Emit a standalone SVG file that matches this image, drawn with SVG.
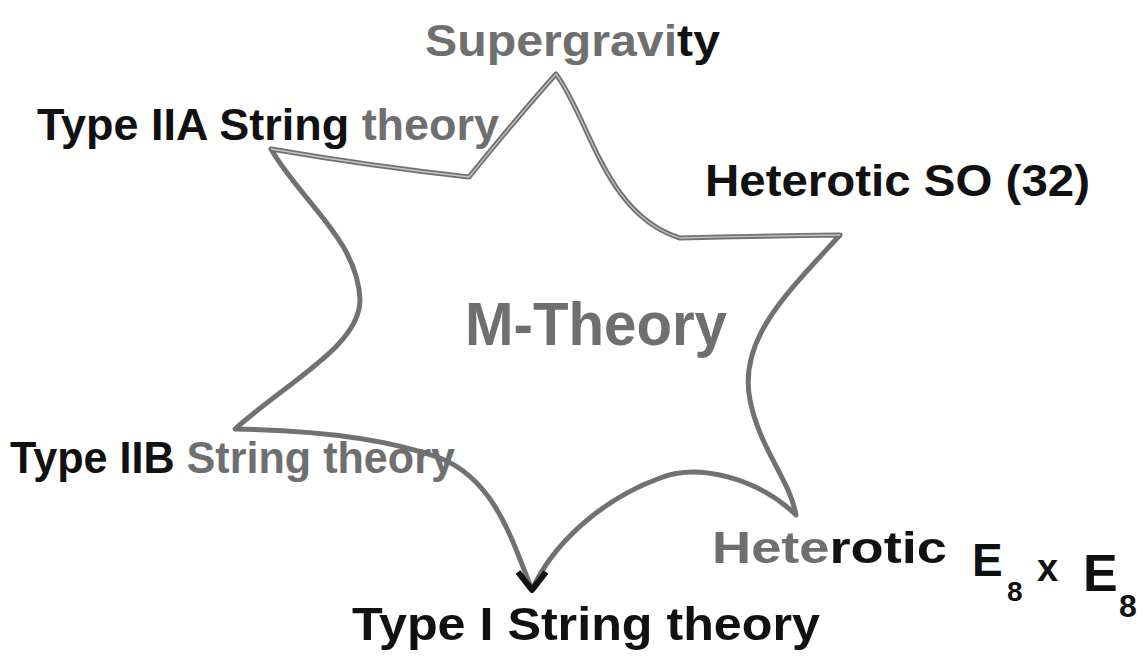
<svg xmlns="http://www.w3.org/2000/svg" width="1144" height="672" viewBox="0 0 1144 672">
<style>
.lbl{font-family:"Liberation Sans",Arial,sans-serif;font-weight:bold}
.blk{fill:#111}
.gry{fill:#6f6f6f}
.star{fill:none;stroke:#717171;stroke-width:5;stroke-linejoin:round;stroke-linecap:round}
.starhi{fill:none;stroke:#c4c4c4;stroke-width:1.3;stroke-linejoin:round}
</style>
<rect width="1144" height="672" fill="#fff"/>
<g id="star">
<path id="starPath" class="star" d="M271 149 Q370 166 469 177 Q515 120 556 74 C590 120 605 215 680 238 Q760 236 840 235 C785 295 738 340 750 400 C760 450 790 480 796 515 C760 480 700 462 660 478 C600 500 552 545 532 590 C512 540 495 480 440 458 C380 436 300 430 235 429 C290 380 360 345 360 300 C358 240 300 200 271 149 Z"/>
<path class="starhi" d="M271 149 Q370 166 469 177 Q515 120 556 74 C590 120 605 215 680 238 Q760 236 840 235"/>
<path d="M518 572 L532 590 L546 572" fill="none" stroke="#111" stroke-width="6" stroke-linejoin="round"/>
</g>
<g id="m-theory">
<text class="lbl gry" x="465" y="345" font-size="62" textLength="262" lengthAdjust="spacingAndGlyphs">M-Theory</text>
</g>
<g id="supergravity">
<text class="lbl" x="425" y="56" font-size="44" textLength="295" lengthAdjust="spacingAndGlyphs"><tspan class="gry">Supergravi</tspan><tspan class="blk">ty</tspan></text>
</g>
<g id="type-iia">
<text class="lbl" x="37" y="140" font-size="44" textLength="462" lengthAdjust="spacingAndGlyphs"><tspan class="blk">Type IIA String </tspan><tspan class="gry">theory</tspan></text>
</g>
<g id="heterotic-so32">
<text class="lbl blk" x="705" y="196" font-size="44" textLength="385" lengthAdjust="spacingAndGlyphs">Heterotic SO (32)</text>
</g>
<g id="type-iib">
<text class="lbl" x="10" y="473" font-size="44" textLength="445" lengthAdjust="spacingAndGlyphs"><tspan class="blk">Type IIB </tspan><tspan class="gry">String theory</tspan></text>
</g>
<g id="heterotic-e8">
<text class="lbl" x="712" y="563" font-size="44" textLength="235" lengthAdjust="spacingAndGlyphs"><tspan class="gry">Hete</tspan><tspan class="blk">rotic</tspan></text>
<text class="lbl blk" x="972" y="576" font-size="46">E</text>
<text class="lbl blk" x="1007" y="601" font-size="28">8</text>
<text class="lbl blk" x="1037" y="581" font-size="38">x</text>
<text class="lbl blk" x="1083" y="591" font-size="52">E</text>
<text class="lbl blk" x="1119" y="617" font-size="32">8</text>
</g>
<g id="type-i">
<text class="lbl blk" x="352" y="640" font-size="46" textLength="468" lengthAdjust="spacingAndGlyphs">Type I  String theory</text>
</g>
</svg>
